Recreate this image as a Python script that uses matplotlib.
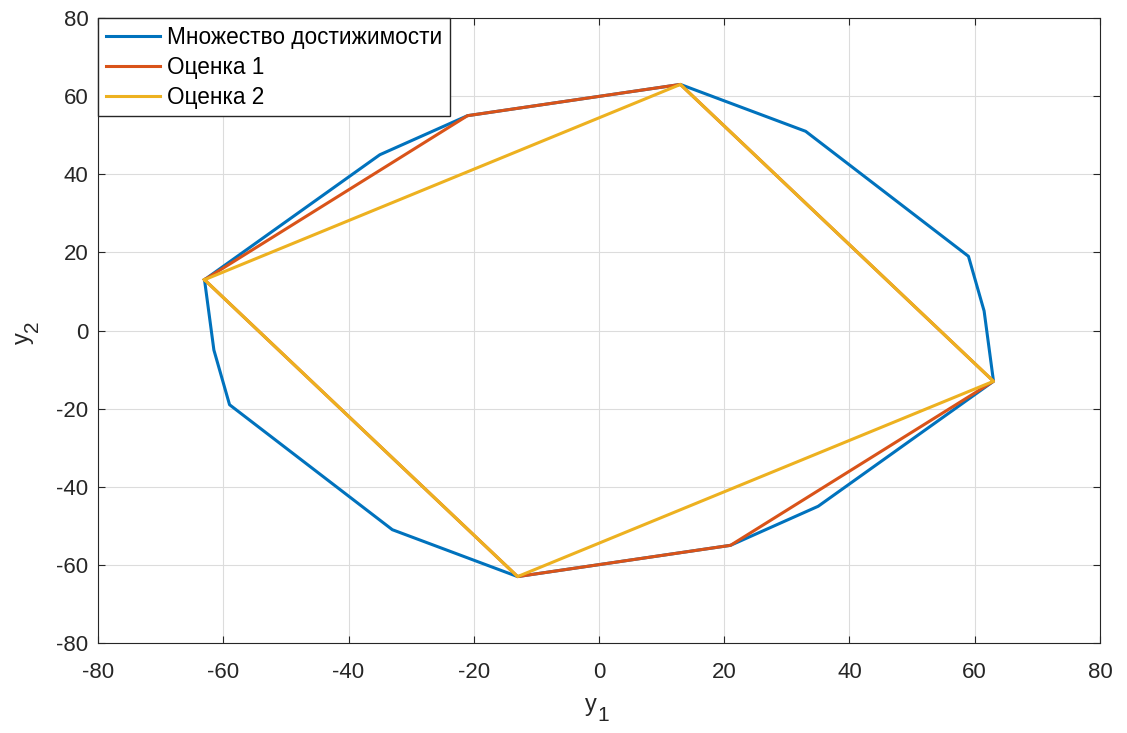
import matplotlib.pyplot as plt

plt.rcParams['font.family'] = ['Liberation Sans', 'DejaVu Sans']
plt.rcParams['axes.unicode_minus'] = False

# vertices
reach_x = [-63, -35, -21, 13, 33, 59, 61.5, 63, 35, 21, -13, -33, -59, -61.5, -63]
reach_y = [13, 45, 55, 63, 51, 19, 5, -13, -45, -55, -63, -51, -19, -5, 13]
est1_x = [-63, -21, 13, 63, 21, -13, -63]
est1_y = [13, 55, 63, -13, -55, -63, 13]
est2_x = [-63, 13, 63, -13, -63]
est2_y = [13, 63, -13, -63, 13]

labels = ['Множество достижимости', 'Оценка 1', 'Оценка 2']
colors = ['#0072BD', '#D95319', '#EDB120']
txt = '#262626'

fig = plt.figure(figsize=(11.27, 7.33), dpi=100)
ax = fig.add_axes([0.087, 0.1228, 0.889, 0.8526])

ax.plot(reach_x, reach_y, color=colors[0], lw=2.2, label=labels[0])
ax.plot(est1_x, est1_y, color=colors[1], lw=2.2, label=labels[1])
ax.plot(est2_x, est2_y, color=colors[2], lw=2.2, label=labels[2])

ax.set_xlim(-80, 80)
ax.set_ylim(-80, 80)
ax.set_xticks(range(-80, 81, 20))
ax.set_yticks(range(-80, 81, 20))
ax.grid(True, color='#dcdcdc', lw=0.8)
ax.set_axisbelow(True)
ax.tick_params(direction='in', top=True, right=True, labelsize=16, length=5,
               color=txt, labelcolor=txt)
ax.tick_params(axis='x', pad=14)
ax.tick_params(axis='y', pad=7)
for s in ax.spines.values():
    s.set_color(txt)

# axis labels with full-size subscripts, like the original
ax.annotate('y', xy=(0.5, 0), xycoords='axes fraction', xytext=(-5.5, -45),
            textcoords='offset points', ha='center', va='center', fontsize=17, color=txt)
ax.annotate('1', xy=(0.5, 0), xycoords='axes fraction', xytext=(3, -52),
            textcoords='offset points', ha='center', va='center', fontsize=15, color=txt)
ax.annotate('y', xy=(0, 0.5), xycoords='axes fraction', xytext=(-54, -5.5),
            textcoords='offset points', ha='center', va='center', fontsize=17,
            color=txt, rotation=90)
ax.annotate('2', xy=(0, 0.5), xycoords='axes fraction', xytext=(-47, 3),
            textcoords='offset points', ha='center', va='center', fontsize=15,
            color=txt, rotation=90)

leg = ax.legend(loc='upper left', fontsize=16.3, fancybox=False, edgecolor=txt,
                borderaxespad=0, handlelength=2.4, handletextpad=0.3, labelspacing=0.3,
                borderpad=0.35)
leg.get_frame().set_linewidth(1.0)
leg.get_frame().set_alpha(1)

fig.savefig('out.png', dpi=100)
